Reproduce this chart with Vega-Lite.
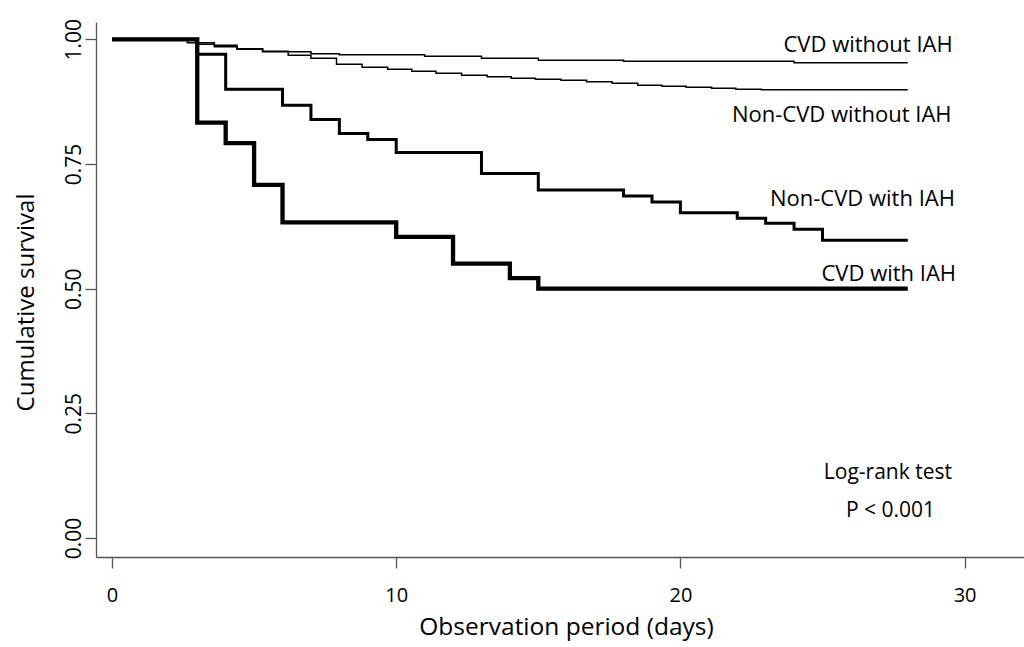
{
  "$schema": "https://vega.github.io/schema/vega-lite/v6.json",
  "autosize": "none",
  "width": 928,
  "height": 535,
  "padding": {"left": 96, "top": 22, "right": 0, "bottom": 90},
  "background": "white",
  "config": {
    "view": {"stroke": null},
    "font": "Open Sans",
    "axis": {
      "grid": false,
      "domainColor": "#555555",
      "domainWidth": 1.3,
      "tickColor": "#555555",
      "tickWidth": 1.3,
      "tickSize": 11,
      "labelColor": "#000000",
      "titleColor": "#000000",
      "labelFont": "Open Sans",
      "titleFont": "Open Sans",
      "titleFontWeight": "normal"
    }
  },
  "datasets": {
    "curves": [
      {"group": "CVD with IAH", "day": 0, "surv": 1.0},
      {"group": "CVD with IAH", "day": 3, "surv": 0.833},
      {"group": "CVD with IAH", "day": 4, "surv": 0.792},
      {"group": "CVD with IAH", "day": 5, "surv": 0.708},
      {"group": "CVD with IAH", "day": 6, "surv": 0.633},
      {"group": "CVD with IAH", "day": 10, "surv": 0.604},
      {"group": "CVD with IAH", "day": 12, "surv": 0.55},
      {"group": "CVD with IAH", "day": 14, "surv": 0.521},
      {"group": "CVD with IAH", "day": 15, "surv": 0.5},
      {"group": "CVD with IAH", "day": 28, "surv": 0.5},
      {"group": "Non-CVD with IAH", "day": 0, "surv": 1.0},
      {"group": "Non-CVD with IAH", "day": 3, "surv": 0.97},
      {"group": "Non-CVD with IAH", "day": 4, "surv": 0.9},
      {"group": "Non-CVD with IAH", "day": 6, "surv": 0.868},
      {"group": "Non-CVD with IAH", "day": 7, "surv": 0.839},
      {"group": "Non-CVD with IAH", "day": 8, "surv": 0.811},
      {"group": "Non-CVD with IAH", "day": 9, "surv": 0.799},
      {"group": "Non-CVD with IAH", "day": 10, "surv": 0.773},
      {"group": "Non-CVD with IAH", "day": 13, "surv": 0.731},
      {"group": "Non-CVD with IAH", "day": 15, "surv": 0.698},
      {"group": "Non-CVD with IAH", "day": 18, "surv": 0.686},
      {"group": "Non-CVD with IAH", "day": 19, "surv": 0.674},
      {"group": "Non-CVD with IAH", "day": 20, "surv": 0.652},
      {"group": "Non-CVD with IAH", "day": 22, "surv": 0.641},
      {"group": "Non-CVD with IAH", "day": 23, "surv": 0.631},
      {"group": "Non-CVD with IAH", "day": 24, "surv": 0.619},
      {"group": "Non-CVD with IAH", "day": 25, "surv": 0.597},
      {"group": "Non-CVD with IAH", "day": 28, "surv": 0.597},
      {"group": "CVD without IAH", "day": 0, "surv": 1.0},
      {"group": "CVD without IAH", "day": 2.65, "surv": 0.993},
      {"group": "CVD without IAH", "day": 3.6, "surv": 0.988},
      {"group": "CVD without IAH", "day": 4.4, "surv": 0.98},
      {"group": "CVD without IAH", "day": 5.3, "surv": 0.975},
      {"group": "CVD without IAH", "day": 7, "surv": 0.971},
      {"group": "CVD without IAH", "day": 8, "surv": 0.969},
      {"group": "CVD without IAH", "day": 11, "surv": 0.966},
      {"group": "CVD without IAH", "day": 13, "surv": 0.962},
      {"group": "CVD without IAH", "day": 15, "surv": 0.958},
      {"group": "CVD without IAH", "day": 18, "surv": 0.956},
      {"group": "CVD without IAH", "day": 24, "surv": 0.953},
      {"group": "CVD without IAH", "day": 28, "surv": 0.953},
      {"group": "Non-CVD without IAH", "day": 0, "surv": 1.0},
      {"group": "Non-CVD without IAH", "day": 3, "surv": 0.99},
      {"group": "Non-CVD without IAH", "day": 3.6, "surv": 0.985},
      {"group": "Non-CVD without IAH", "day": 4.4, "surv": 0.981},
      {"group": "Non-CVD without IAH", "day": 5.3, "surv": 0.976},
      {"group": "Non-CVD without IAH", "day": 6.2, "surv": 0.968},
      {"group": "Non-CVD without IAH", "day": 7, "surv": 0.962},
      {"group": "Non-CVD without IAH", "day": 7.9, "surv": 0.95},
      {"group": "Non-CVD without IAH", "day": 8.8, "surv": 0.944},
      {"group": "Non-CVD without IAH", "day": 9.7, "surv": 0.94},
      {"group": "Non-CVD without IAH", "day": 10.55, "surv": 0.936},
      {"group": "Non-CVD without IAH", "day": 11.4, "surv": 0.932},
      {"group": "Non-CVD without IAH", "day": 12.3, "surv": 0.928},
      {"group": "Non-CVD without IAH", "day": 13.2, "surv": 0.925},
      {"group": "Non-CVD without IAH", "day": 14.05, "surv": 0.922},
      {"group": "Non-CVD without IAH", "day": 14.9, "surv": 0.92},
      {"group": "Non-CVD without IAH", "day": 15.8, "surv": 0.918},
      {"group": "Non-CVD without IAH", "day": 16.7, "surv": 0.915},
      {"group": "Non-CVD without IAH", "day": 17.6, "surv": 0.912},
      {"group": "Non-CVD without IAH", "day": 18.5, "surv": 0.908},
      {"group": "Non-CVD without IAH", "day": 19.35, "surv": 0.906},
      {"group": "Non-CVD without IAH", "day": 20.2, "surv": 0.904},
      {"group": "Non-CVD without IAH", "day": 21.1, "surv": 0.902},
      {"group": "Non-CVD without IAH", "day": 21.95, "surv": 0.9},
      {"group": "Non-CVD without IAH", "day": 22.85, "surv": 0.899},
      {"group": "Non-CVD without IAH", "day": 28, "surv": 0.899}
    ]
  },
  "layer": [
    {
      "data": {"name": "curves"},
      "transform": [{"filter": "datum.group === 'CVD without IAH' || datum.group === 'Non-CVD without IAH'"}],
      "mark": {"type": "line", "interpolate": "step-after", "color": "#000000", "strokeWidth": 1.5},
      "encoding": {
        "x": {
          "field": "day", "type": "quantitative",
          "scale": {"domain": [-0.563, 32.09], "nice": false, "zero": false},
          "axis": {
            "values": [0, 10, 20, 30], "format": "d",
            "title": "Observation period (days)",
            "labelFontSize": 20, "labelPadding": 17,
            "titleFontSize": 24.5, "titleX": 470, "titleY": 77, "titleAlign": "center", "titleBaseline": "alphabetic"
          }
        },
        "y": {
          "field": "surv", "type": "quantitative",
          "scale": {"domain": [-0.0381, 1.0347], "nice": false, "zero": false},
          "axis": {
            "values": [0, 0.25, 0.5, 0.75, 1], "format": ".2f",
            "title": "Cumulative survival",
            "labelFontSize": 21, "labelAngle": 270, "labelAlign": "center", "labelBaseline": "alphabetic", "labelPadding": 5,
            "titleFontSize": 24, "titleAngle": 270, "titleX": -63, "titleY": 280, "titleAlign": "center", "titleBaseline": "alphabetic"
          }
        },
        "detail": {"field": "group", "type": "nominal"}
      }
    },
    {
      "data": {"name": "curves"},
      "transform": [{"filter": "datum.group === 'Non-CVD with IAH'"}],
      "mark": {"type": "line", "interpolate": "step-after", "color": "#000000", "strokeWidth": 3},
      "encoding": {
        "x": {"field": "day", "type": "quantitative"},
        "y": {"field": "surv", "type": "quantitative"}
      }
    },
    {
      "data": {"name": "curves"},
      "transform": [{"filter": "datum.group === 'CVD with IAH'"}],
      "mark": {"type": "line", "interpolate": "step-after", "color": "#000000", "strokeWidth": 4.3},
      "encoding": {
        "x": {"field": "day", "type": "quantitative"},
        "y": {"field": "surv", "type": "quantitative"}
      }
    },
    {
      "data": {"values": [{}]},
      "mark": {"type": "text", "align": "right", "baseline": "alphabetic", "fontSize": 22, "font": "Open Sans", "color": "#000000"},
      "encoding": {"x": {"datum": 29.58, "type": "quantitative"}, "y": {"datum": 0.975, "type": "quantitative"}, "text": {"value": "CVD without IAH"}}
    },
    {
      "data": {"values": [{}]},
      "mark": {"type": "text", "align": "right", "baseline": "alphabetic", "fontSize": 22, "font": "Open Sans", "color": "#000000"},
      "encoding": {"x": {"datum": 29.54, "type": "quantitative"}, "y": {"datum": 0.835, "type": "quantitative"}, "text": {"value": "Non-CVD without IAH"}}
    },
    {
      "data": {"values": [{}]},
      "mark": {"type": "text", "align": "right", "baseline": "alphabetic", "fontSize": 22, "font": "Open Sans", "color": "#000000"},
      "encoding": {"x": {"datum": 29.66, "type": "quantitative"}, "y": {"datum": 0.6655, "type": "quantitative"}, "text": {"value": "Non-CVD with IAH"}}
    },
    {
      "data": {"values": [{}]},
      "mark": {"type": "text", "align": "right", "baseline": "alphabetic", "fontSize": 22, "font": "Open Sans", "color": "#000000"},
      "encoding": {"x": {"datum": 29.7, "type": "quantitative"}, "y": {"datum": 0.5157, "type": "quantitative"}, "text": {"value": "CVD with IAH"}}
    },
    {
      "data": {"values": [{}]},
      "mark": {"type": "text", "align": "center", "baseline": "alphabetic", "fontSize": 21, "font": "Open Sans", "color": "#000000"},
      "encoding": {"x": {"datum": 27.3, "type": "quantitative"}, "y": {"datum": 0.119, "type": "quantitative"}, "text": {"value": "Log-rank test"}}
    },
    {
      "data": {"values": [{}]},
      "mark": {"type": "text", "align": "center", "baseline": "alphabetic", "fontSize": 21, "font": "Open Sans", "color": "#000000"},
      "encoding": {"x": {"datum": 27.39, "type": "quantitative"}, "y": {"datum": 0.042, "type": "quantitative"}, "text": {"value": "P < 0.001"}}
    }
  ]
}
